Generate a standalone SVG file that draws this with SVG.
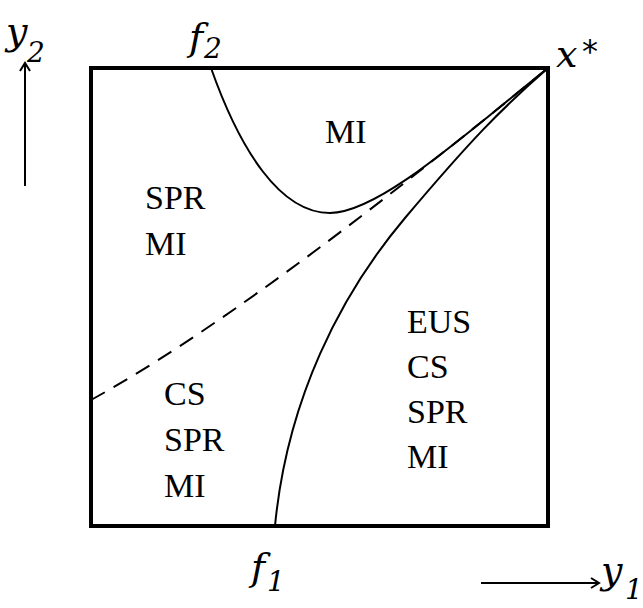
<svg xmlns="http://www.w3.org/2000/svg" width="643" height="608" viewBox="0 0 643 608">
<style>
.lbl{font-family:"Liberation Serif","Times New Roman",serif;font-size:34px;fill:#000}
.it{font-family:"DejaVu Serif",serif;font-style:italic;font-size:38px;fill:#000}
.sub{font-size:28px}
.star{font-family:"DejaVu Sans",sans-serif;font-style:normal;font-size:32px}
.curve{fill:none;stroke:#000;stroke-width:2}
.axis{fill:none;stroke:#000;stroke-width:2}
</style>
<defs>
<marker id="chev" viewBox="0 0 12 12" refX="10" refY="6" markerWidth="12" markerHeight="12" markerUnits="userSpaceOnUse" orient="auto">
<path d="M2,1 L10,6 L2,11" fill="none" stroke="#000" stroke-width="2"/>
</marker>
</defs>
<g id="box"><rect x="91" y="68" width="457" height="458" fill="none" stroke="#000" stroke-width="4"/></g>
<g id="connectors">
<path id="f2curve" class="curve" d="M211,68 C240,150 280,213 330,213 C380,213 470,130 548,68"/>
<path id="f1curve" class="curve" d="M275,526 C287,400 340,295 405,218 S500,110 548,68"/>
<path id="dashed" class="curve" stroke-dasharray="16 10" d="M91,400 C200,340 350,230 548,68"/>
<path id="axis-y2" class="axis" d="M25,186 L25,63" marker-end="url(#chev)"/>
<path id="axis-y1" class="axis" d="M481,583 L599,583" marker-end="url(#chev)"/>
</g>
<g id="region-top"><text class="lbl" x="325" y="143">MI</text></g>
<g id="region-left"><text class="lbl" x="145" y="209">SPR</text><text class="lbl" x="145" y="255">MI</text></g>
<g id="region-bottom"><text class="lbl" x="164" y="405">CS</text><text class="lbl" x="164" y="451">SPR</text><text class="lbl" x="164" y="497">MI</text></g>
<g id="region-right"><text class="lbl" x="407" y="333">EUS</text><text class="lbl" x="407" y="378">CS</text><text class="lbl" x="407" y="423">SPR</text><text class="lbl" x="407" y="468">MI</text></g>
<g id="label-y2"><text class="it" x="6" y="44">y<tspan class="sub" x="27" y="62">2</tspan></text></g>
<g id="label-f2"><text class="it" x="189" y="50">f<tspan class="sub" x="204" y="58">2</tspan></text></g>
<g id="label-xstar"><text class="it" x="556" y="67">x<tspan class="star" x="582" y="62">*</tspan></text></g>
<g id="label-f1"><text class="it" x="251" y="580">f<tspan class="sub" x="267" y="591">1</tspan></text></g>
<g id="label-y1"><text class="it" x="601" y="583">y<tspan class="sub" x="625" y="599">1</tspan></text></g>
</svg>
